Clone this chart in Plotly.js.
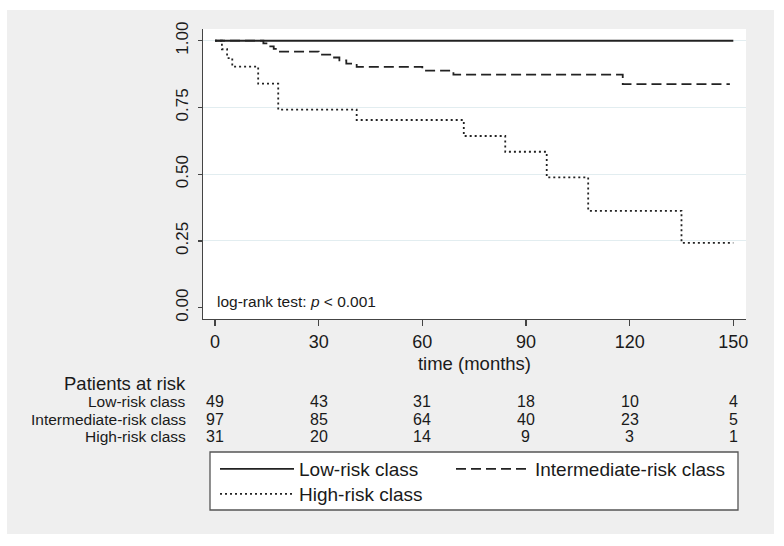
<!DOCTYPE html>
<html>
<head>
<meta charset="utf-8">
<script src="https://cdn.plot.ly/plotly-3.0.1.min.js"></script>
<style>html,body{margin:0;padding:0;background:#fff;}#chart{width:784px;height:546px;}</style>
</head>
<body>
<div id="chart"></div>
<script>
// ---- data ----
var seriesNames = ['Low-risk class', 'Intermediate-risk class', 'High-risk class'];

var lowTime = [0, 150];
var lowSurv = [1.0, 1.0];

var intTime = [0, 14, 15.5, 17, 18, 30, 34, 36, 38, 41, 60, 69, 118, 149];
var intSurv = [1.0, 0.990, 0.979, 0.969, 0.959, 0.948, 0.937, 0.926, 0.914, 0.902, 0.888, 0.873, 0.837, 0.837];

var highTime = [0, 2, 3.5, 5, 12.5, 18.3, 41, 72, 84, 96, 108, 135, 150];
var highSurv = [1.0, 0.968, 0.935, 0.903, 0.839, 0.742, 0.703, 0.643, 0.584, 0.488, 0.363, 0.243, 0.243];

var xTicks = [0, 30, 60, 90, 120, 150];
var yTicks = [0, 0.25, 0.5, 0.75, 1];
var yTickText = ['0.00', '0.25', '0.50', '0.75', '1.00'];

var atRiskTimes = [0, 30, 60, 90, 120, 150];
var lowAtRisk = [49, 43, 31, 18, 10, 4];
var intAtRisk = [97, 85, 64, 40, 23, 5];
var highAtRisk = [31, 20, 14, 9, 3, 1];

var xTitle = 'time (months)';
var riskTitle = 'Patients at risk';
var testText = 'log-rank test: <i>p</i> &lt; 0.001';

// ---- layout helpers ----
var W = 784, H = 546;
var L = 203, R = 38, T = 29, B = 227;
var pw = W - L - R, ph = H - T - B;
function px2x(px) { return (px - L) / pw; }
function py2y(py) { return (H - B - py) / ph; }

var FONT = 'Liberation Sans, Arial, Helvetica, sans-serif';
var INK = '#1a1a1a';
var CURVE = '#222222';

var traces = [
  { x: lowTime, y: lowSurv, name: seriesNames[0], type: 'scatter', mode: 'lines', legend: 'legend',
    line: { shape: 'hv', color: CURVE, width: 1.9, dash: 'solid' } },
  { x: intTime, y: intSurv, name: seriesNames[1], type: 'scatter', mode: 'lines', legend: 'legend2',
    line: { shape: 'hv', color: CURVE, width: 1.8, dash: '10px,5px' } },
  { x: highTime, y: highSurv, name: seriesNames[2], type: 'scatter', mode: 'lines', legend: 'legend3',
    line: { shape: 'hv', color: CURVE, width: 1.8, dash: '2px,3px' } }
];

var annotations = [];
annotations.push({ xref: 'paper', yref: 'paper', x: px2x(188), y: py2y(383), xanchor: 'right', yanchor: 'middle',
  text: riskTitle, showarrow: false, font: { family: FONT, size: 18.5, color: INK } });
var rowLabelsY = [401.7, 419.2, 436.7];
var rows = [lowAtRisk, intAtRisk, highAtRisk];
for (var r = 0; r < 3; r++) {
  annotations.push({ xref: 'paper', yref: 'paper', x: px2x(188), y: py2y(rowLabelsY[r]), xanchor: 'right', yanchor: 'middle',
    text: seriesNames[r], showarrow: false, font: { family: FONT, size: 15.5, color: INK } });
  for (var j = 0; j < atRiskTimes.length; j++) {
    annotations.push({ xref: 'x', yref: 'paper', x: atRiskTimes[j], y: py2y(rowLabelsY[r]), xanchor: 'center', yanchor: 'middle',
      text: String(rows[r][j]), showarrow: false, font: { family: FONT, size: 16, color: INK } });
  }
}
annotations.push({ xref: 'x', yref: 'paper', x: 0, y: py2y(301.7), xanchor: 'left', yanchor: 'middle',
  text: testText, showarrow: false, font: { family: FONT, size: 15.5, color: INK } });

var shapes = [
  // legend frame
  { type: 'rect', xref: 'paper', yref: 'paper', x0: px2x(210), x1: px2x(738), y0: py2y(452), y1: py2y(510),
    fillcolor: 'white', line: { color: '#555', width: 1.3 }, layer: 'above' },
  // white outer border
  { type: 'rect', xref: 'paper', yref: 'paper', x0: px2x(0), x1: px2x(7), y0: py2y(H), y1: py2y(0),
    fillcolor: 'white', line: { width: 0 }, layer: 'above' },
  { type: 'rect', xref: 'paper', yref: 'paper', x0: px2x(774), x1: px2x(W), y0: py2y(H), y1: py2y(0),
    fillcolor: 'white', line: { width: 0 }, layer: 'above' },
  { type: 'rect', xref: 'paper', yref: 'paper', x0: px2x(0), x1: px2x(W), y0: py2y(10), y1: py2y(0),
    fillcolor: 'white', line: { width: 0 }, layer: 'above' },
  { type: 'rect', xref: 'paper', yref: 'paper', x0: px2x(0), x1: px2x(W), y0: py2y(H), y1: py2y(534),
    fillcolor: 'white', line: { width: 0 }, layer: 'above' }
];

function legendAt(left, top) {
  return {
    orientation: 'v', x: px2x(left), xanchor: 'left', y: py2y(top), yanchor: 'top',
    bgcolor: 'rgba(0,0,0,0)', borderwidth: 0,
    font: { family: FONT, size: 19, color: INK },
    itemwidth: 74, itemclick: false, itemdoubleclick: false
  };
}

var layout = {
  width: W, height: H,
  margin: { l: L, r: R, t: T, b: B, pad: 0 },
  paper_bgcolor: '#efefef',
  plot_bgcolor: '#ffffff',
  font: { family: FONT, color: INK },
  showlegend: true,
  legend: legendAt(215, 450),
  legend2: legendAt(451, 450),
  legend3: legendAt(215, 475),
  xaxis: {
    range: [-3.47, 153.67], tickmode: 'array', tickvals: xTicks,
    ticks: 'outside', ticklen: 6, tickwidth: 1.3, tickcolor: '#444',
    showline: true, linecolor: '#444', linewidth: 1.3, mirror: false,
    showgrid: false, zeroline: false,
    tickfont: { family: FONT, size: 18, color: INK },
    title: { text: xTitle, font: { family: FONT, size: 18.5, color: INK }, standoff: 6 }
  },
  yaxis: {
    range: [-0.0423, 1.0438], tickmode: 'array', tickvals: yTicks, ticktext: yTickText,
    tickangle: -90, ticklabelstandoff: 3,
    ticks: 'outside', ticklen: 4, tickwidth: 1.3, tickcolor: '#444',
    showline: true, linecolor: '#444', linewidth: 1.3,
    showgrid: false, zeroline: false,
    tickfont: { family: FONT, size: 17, color: INK },
    minor: { tickmode: 'array', tickvals: [0.25, 0.5, 0.75, 1], showgrid: true, gridcolor: '#e2edf0', gridwidth: 1, ticks: '' }
  },
  annotations: annotations,
  shapes: shapes
};

Plotly.newPlot('chart', traces, layout, { staticPlot: true, displayModeBar: false });
</script>
</body>
</html>
